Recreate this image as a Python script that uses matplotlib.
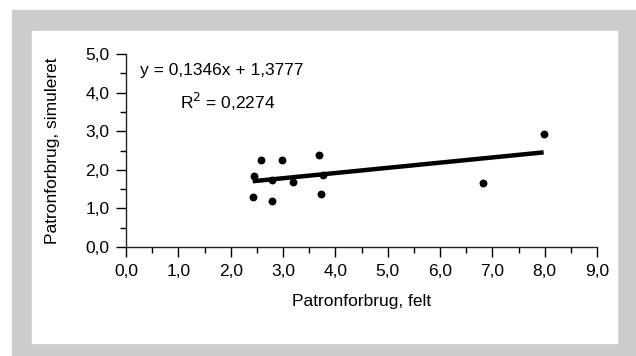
import numpy as np
import matplotlib.pyplot as plt
from matplotlib.patches import Rectangle
from matplotlib.ticker import MultipleLocator, FuncFormatter

# Data
felt = [2.58, 2.99, 3.68, 2.45, 2.79, 3.19, 3.77, 2.42, 2.79, 3.73, 6.82, 7.98]
simuleret = [2.25, 2.25, 2.38, 1.85, 1.74, 1.68, 1.86, 1.29, 1.19, 1.37, 1.65, 2.94]
slope = 0.1346
intercept = 1.3777
r2 = 0.2274

plt.rcParams['font.family'] = ['Liberation Sans', 'DejaVu Sans']

fig = plt.figure(figsize=(6.36, 3.56), dpi=100)
W, H = 636, 356

# gray frame and white panel
fig.add_artist(Rectangle((12 / W, 0), 1 - 12 / W, (H - 10) / H,
                         transform=fig.transFigure, color='#cccccc', zorder=-10))
fig.add_artist(Rectangle((32 / W, 13 / H), 585 / W, 312 / H,
                         transform=fig.transFigure, color='white', zorder=-9))

ax = fig.add_axes([126 / W, 1 - 247 / H, (597 - 126) / W, (247 - 54) / H])
ax.set_zorder(1)
ax.patch.set_alpha(0)

ax.scatter(felt, simuleret, s=32, color='black', zorder=3, linewidths=0)
xs = np.array([min(felt), max(felt)])
ax.plot(xs, slope * xs + intercept, color='black', lw=3.2, solid_capstyle='butt')

ax.set_xlim(0, 9)
ax.set_ylim(0, 5)
ax.xaxis.set_major_locator(MultipleLocator(1))
ax.xaxis.set_minor_locator(MultipleLocator(0.5))
ax.yaxis.set_major_locator(MultipleLocator(1))
ax.yaxis.set_minor_locator(MultipleLocator(0.5))
fmt = FuncFormatter(lambda v, p: f"{v:.1f}".replace('.', ','))
ax.xaxis.set_major_formatter(fmt)
ax.yaxis.set_major_formatter(fmt)

for s in ['top', 'right']:
    ax.spines[s].set_visible(False)
for s in ['left', 'bottom']:
    ax.spines[s].set_linewidth(1.0)
    ax.spines[s].set_color('#222222')
ax.tick_params(which='major', length=7, width=1.0, labelsize=12.5, pad=5)
ax.tick_params(which='minor', length=4, width=1.0)

ax.set_xlabel("Patronforbrug, felt", fontsize=12.5, labelpad=11)
ax.set_ylabel("Patronforbrug, simuleret", fontsize=12.5, labelpad=18)

eq = f"y = {slope:.4f}x + {intercept:.4f}".replace('.', ',')
ax.text(140 / W, 1 - 71 / H, eq, transform=fig.transFigure, fontsize=12.5, va='center', ha='left')
ax.text(180 / W, 1 - 102 / H, f"R$^2$ = {r2:.4f}".replace('.', ','),
        transform=fig.transFigure, fontsize=12.5, va='center', ha='left')

fig.savefig("out.png", dpi=100)
